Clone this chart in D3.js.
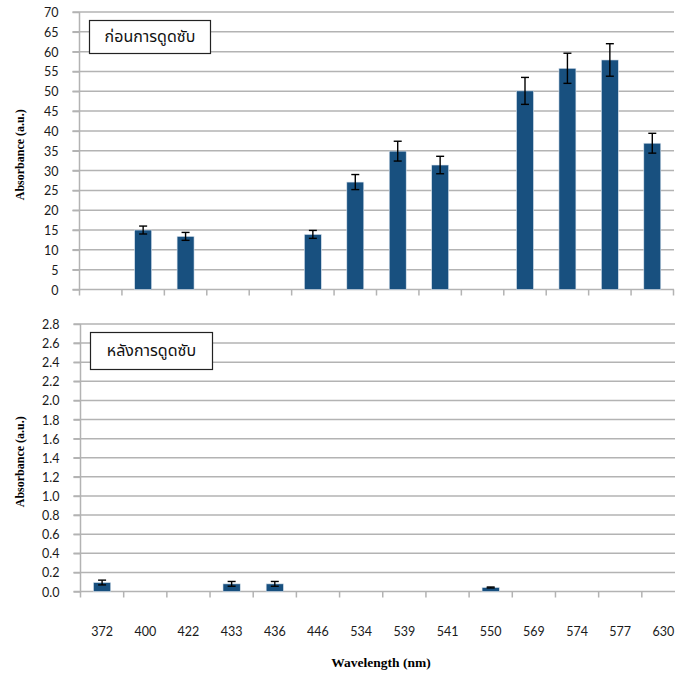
<!DOCTYPE html>
<html>
<head>
<meta charset="utf-8">
<script src="https://cdn.jsdelivr.net/npm/d3@7"></script>
<style>
  html, body { margin: 0; padding: 0; background: #fff; }
  svg { display: block; }
</style>
</head>
<body>
<svg id="chart" width="675" height="676"></svg>
<script>
// Wavelength categories shared by both panels
const wavelengths = ["372", "400", "422", "433", "436", "446", "534", "539", "541", "550", "569", "574", "577", "630"];

// Absorbance before adsorption (null = not measured at that wavelength)
const beforeValues = [null, 15.0, 13.4, null, null, 13.9, 27.1, 34.9, 31.4, null, 50.1, 55.8, 57.9, 36.9];
const beforeErrors = [null, 1.0, 1.0, null, null, 1.0, 1.9, 2.5, 2.2, null, 3.4, 3.8, 4.1, 2.5];

// Absorbance after adsorption
const afterValues = [0.094, null, null, 0.08, 0.08, null, null, null, null, 0.042, null, null, null, null];
const afterErrors = [0.025, null, null, 0.025, 0.025, null, null, null, null, 0.005, null, null, null, null];

// Y-axis tick values
const beforeTicks = d3.range(0, 71, 5);
const afterTicks = d3.range(0, 2.81, 0.2);

const svg = d3.select("#chart");
const barColor = "#18507f";
const gridColor = "#b3b3b3";
const tickFont = "Lato, 'Liberation Sans', sans-serif";
const titleFont = "'Liberation Serif', 'Times New Roman', serif";

function panel(opts) {
  const g = svg.append("g");
  const x = d3.scaleBand().domain(wavelengths).range([opts.left, opts.right]).padding(0);
  const y = d3.scaleLinear().domain(opts.domain).range([opts.bottom, opts.top]);

  // horizontal gridlines with outer tick marks
  g.append("g")
    .selectAll("line")
    .data(opts.ticks.slice(1))
    .join("line")
    .attr("x1", opts.left - 7)
    .attr("x2", opts.gridRight)
    .attr("y1", d => y(d))
    .attr("y2", d => y(d))
    .attr("stroke", gridColor)
    .attr("stroke-width", 1.5);

  // y axis
  const yAxis = d3.axisLeft(y).tickValues(opts.ticks).tickFormat(opts.format).tickSize(7).tickPadding(14);
  const ya = g.append("g").attr("transform", `translate(${opts.left},0)`).call(yAxis);
  ya.select(".domain").attr("stroke", gridColor).attr("stroke-width", 1.5).attr("d", `M-7,${opts.bottom}H0V${opts.top}`);
  ya.selectAll(".tick line").attr("stroke", gridColor).attr("stroke-width", 1.5);
  ya.selectAll(".tick text")
    .attr("dy", "0.36em")
    .attr("font-family", tickFont)
    .attr("font-size", "12.5px")
    .attr("fill", "#1a1a1a");

  // x axis: tick marks at category boundaries
  const bounds = wavelengths.map(w => x(w)).concat([opts.right]);
  g.append("line")
    .attr("x1", opts.left).attr("x2", opts.gridRight)
    .attr("y1", opts.bottom).attr("y2", opts.bottom)
    .attr("stroke", gridColor).attr("stroke-width", 1.5);
  g.append("g")
    .selectAll("line")
    .data(bounds)
    .join("line")
    .attr("x1", d => d).attr("x2", d => d)
    .attr("y1", opts.bottom).attr("y2", opts.bottom + 6)
    .attr("stroke", gridColor).attr("stroke-width", 1.5);

  const rows = wavelengths.map((w, i) => ({ w, v: opts.values[i], e: opts.errors[i] })).filter(d => d.v != null);
  const bw = x.bandwidth() * 0.4;

  // bars
  g.append("g")
    .selectAll("rect")
    .data(rows)
    .join("rect")
    .attr("x", d => x(d.w) + x.bandwidth() / 2 - bw / 2)
    .attr("width", bw)
    .attr("y", d => y(d.v))
    .attr("height", d => y(0) - y(d.v))
    .attr("fill", barColor)
    .attr("stroke", "#dbe4ee")
    .attr("stroke-width", 0.6);

  // error bars
  const eb = g.append("g").attr("stroke", "#000").attr("stroke-width", 1.4);
  rows.forEach(d => {
    const cx = x(d.w) + x.bandwidth() / 2;
    const y1 = y(d.v + d.e), y2 = y(d.v - d.e);
    eb.append("line").attr("x1", cx).attr("x2", cx).attr("y1", y1).attr("y2", y2);
    eb.append("line").attr("x1", cx - 4).attr("x2", cx + 4).attr("y1", y1).attr("y2", y1);
    eb.append("line").attr("x1", cx - 4).attr("x2", cx + 4).attr("y1", y2).attr("y2", y2);
  });

  // y-axis title
  g.append("text")
    .attr("transform", `translate(21,${(opts.top + opts.bottom) / 2 + 4}) rotate(-90)`)
    .attr("text-anchor", "middle")
    .attr("dominant-baseline", "middle")
    .style("font-family", titleFont)
    .style("font-weight", "bold")
    .style("font-size", "12px")
    .text("Absorbance (a.u.)");

  // panel label box
  g.append("rect")
    .attr("x", opts.box[0]).attr("y", opts.box[1])
    .attr("width", opts.box[2]).attr("height", opts.box[3])
    .attr("fill", "#fff").attr("stroke", "#222").attr("stroke-width", 1.2);
  g.append("text")
    .attr("x", opts.box[0] + opts.box[2] / 2)
    .attr("y", opts.box[1] + opts.box[3] / 2 + 1)
    .attr("text-anchor", "middle")
    .attr("dominant-baseline", "middle")
    .style("font-family", "'Noto Sans Thai', 'Noto Sans', 'DejaVu Sans', sans-serif")
    .style("font-size", "16px")
    .style("fill", "#111")
    .text(opts.label);

  return { x, y };
}

panel({
  left: 79.5, right: 673.5, gridRight: 674, top: 12, bottom: 289.5,
  domain: [0, 70], ticks: beforeTicks, format: d3.format("d"),
  values: beforeValues, errors: beforeErrors,
  box: [89.5, 20.5, 121, 33], label: "ก่อนการดูดซับ"
});

const after = panel({
  left: 80.5, right: 685, gridRight: 675, top: 324, bottom: 591.5,
  domain: [0, 2.8], ticks: afterTicks, format: d3.format(".1f"),
  values: afterValues, errors: afterErrors,
  box: [90.5, 332.5, 122, 37], label: "หลังการดูดซับ"
});

// category labels under the lower panel
svg.append("g")
  .selectAll("text")
  .data(wavelengths)
  .join("text")
  .attr("x", d => after.x(d) + after.x.bandwidth() / 2)
  .attr("y", 636)
  .attr("text-anchor", "middle")
  .style("font-family", tickFont)
  .style("font-size", "12.5px")
  .style("fill", "#1a1a1a")
  .text(d => d);

svg.append("text")
  .attr("x", 381)
  .attr("y", 667)
  .attr("text-anchor", "middle")
  .style("font-family", titleFont)
  .style("font-weight", "bold")
  .style("font-size", "13.5px")
  .text("Wavelength (nm)");
</script>
</body>
</html>
